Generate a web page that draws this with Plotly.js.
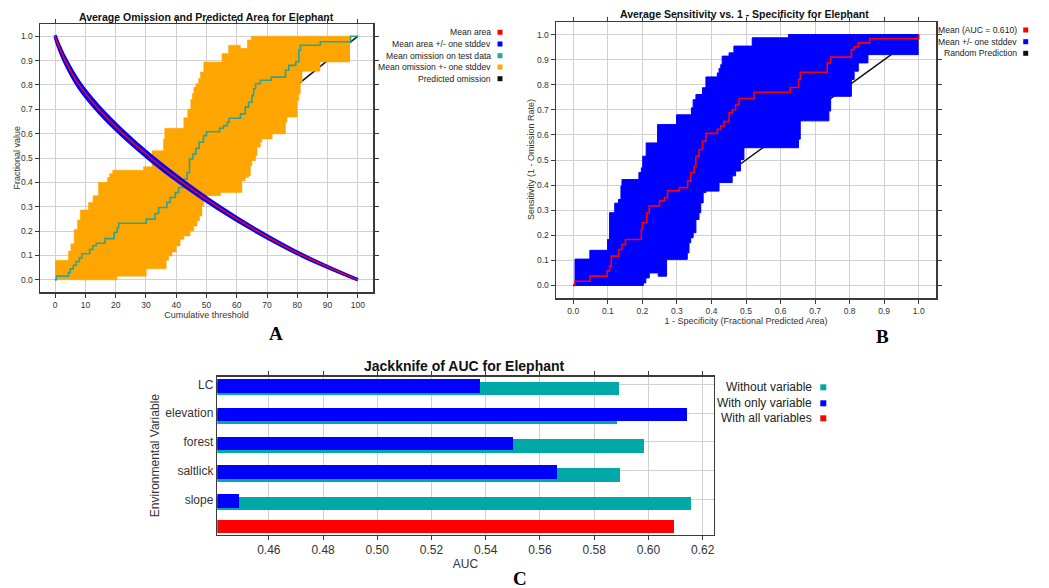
<!DOCTYPE html>
<html>
<head>
<meta charset="utf-8">
<script src="https://cdn.plot.ly/plotly-3.0.1.min.js"></script>
<style>html,body{margin:0;padding:0;background:#fff;}#chart{width:1049px;height:588px;}</style>
</head>
<body>
<div id="chart"></div>
<script>
// ---------- Panel A: Average Omission and Predicted Area ----------
const areaX    = [0, 1, 3.3, 7.9, 14.4, 22.4, 31.6, 42.0, 53.6, 66.7, 81.7, 100];
const areaMean = [1.0, 0.965, 0.9, 0.8, 0.7, 0.6, 0.5, 0.4, 0.3, 0.2, 0.1, 0.0];
const areaSd   = [0.004, 0.007, 0.01, 0.012, 0.012, 0.011, 0.01, 0.009, 0.007, 0.005, 0.003, 0.0];

const omisX = [0, 0.4, 4.4, 5.0, 6.0, 7.0, 8.0, 8.8, 11.4, 12.5, 13.6, 16.5, 19.5, 20.5, 21.0, 30.1, 33.0, 34.2, 36.9, 38.0, 39.7, 40.8, 42.5, 43.6, 44.4, 45.5, 46.5, 47.6, 49.0, 50.0, 54.3, 55.6, 56.9, 57.5, 61.2, 62.8, 63.9, 65.0, 65.6, 66.2, 67.8, 71.4, 76.1, 77.2, 79.5, 80.5, 81.0, 87.6, 97.6, 100];
const omisY = [0, 0.015, 0.03, 0.045, 0.06, 0.075, 0.09, 0.107, 0.125, 0.14, 0.15, 0.169, 0.194, 0.214, 0.232, 0.249, 0.272, 0.297, 0.318, 0.338, 0.358, 0.379, 0.413, 0.44, 0.496, 0.516, 0.54, 0.565, 0.592, 0.608, 0.622, 0.633, 0.647, 0.663, 0.681, 0.709, 0.729, 0.757, 0.784, 0.805, 0.819, 0.832, 0.86, 0.88, 0.895, 0.942, 0.963, 0.977, 1.0, 1.0];

const omisUpX = [0, 4.4, 5.2, 6.3, 7.4, 8.3, 11.0, 12.5, 14.3, 17.3, 18.0, 19.0, 29.2, 32.0, 35.8, 36.2, 42.5, 43.8, 44.8, 45.3, 45.8, 46.5, 47.4, 48.0, 49.1, 55.1, 57.3, 61.2, 63.5, 64.8, 97.4];
const omisUpY = [0.08, 0.118, 0.148, 0.207, 0.246, 0.287, 0.317, 0.345, 0.40, 0.42, 0.435, 0.45, 0.464, 0.53, 0.578, 0.622, 0.665, 0.70, 0.74, 0.765, 0.79, 0.805, 0.826, 0.853, 0.894, 0.929, 0.963, 0.95, 0.984, 1.0, 1.0];
const omisLoX = [0, 20.4, 30.1, 36.7, 37.5, 38.6, 40.0, 41.3, 42.5, 44.6, 45.8, 46.9, 47.7, 48.5, 49.1, 54.6, 61.7, 62.8, 63.9, 64.5, 65.0, 66.2, 66.7, 67.8, 68.3, 71.7, 76.1, 76.6, 79.9, 80.5, 81.0, 81.6, 87.5, 97.4];
const omisLoY = [0, 0.015, 0.045, 0.08, 0.098, 0.114, 0.139, 0.166, 0.18, 0.2, 0.221, 0.242, 0.262, 0.304, 0.345, 0.358, 0.407, 0.42, 0.427, 0.468, 0.489, 0.51, 0.544, 0.565, 0.578, 0.599, 0.647, 0.668, 0.736, 0.764, 0.812, 0.856, 0.894, 0.894];

const predX = [0, 100];
const predY = [0, 1];

const legendA = ["Mean area", "Mean area +/- one stddev", "Mean omission on test data", "Mean omission +- one stddev", "Predicted omission"];

// ---------- Panel B: Sensitivity vs 1 - Specificity ----------
const rocX = [0, 0.005, 0.048, 0.098, 0.105, 0.11, 0.131, 0.141, 0.151, 0.197, 0.2, 0.213, 0.22, 0.25, 0.264, 0.273, 0.307, 0.331, 0.34, 0.35, 0.355, 0.364, 0.374, 0.384, 0.417, 0.427, 0.436, 0.451, 0.46, 0.47, 0.48, 0.523, 0.628, 0.652, 0.657, 0.735, 0.745, 0.805, 0.813, 0.825, 0.858, 1.0];
const rocY = [0, 0.017, 0.037, 0.057, 0.077, 0.117, 0.143, 0.163, 0.183, 0.223, 0.25, 0.29, 0.317, 0.337, 0.35, 0.377, 0.39, 0.416, 0.45, 0.475, 0.515, 0.542, 0.575, 0.606, 0.622, 0.635, 0.653, 0.688, 0.70, 0.721, 0.745, 0.77, 0.789, 0.821, 0.85, 0.887, 0.91, 0.94, 0.951, 0.967, 0.983, 1.0];

const rocUpX = [0, 0.005, 0.048, 0.099, 0.105, 0.12, 0.131, 0.138, 0.141, 0.19, 0.197, 0.201, 0.211, 0.244, 0.299, 0.342, 0.347, 0.355, 0.374, 0.384, 0.417, 0.422, 0.427, 0.431, 0.451, 0.465, 0.518, 0.623, 1.0];
const rocUpY = [0, 0.105, 0.14, 0.183, 0.29, 0.328, 0.343, 0.396, 0.422, 0.45, 0.469, 0.515, 0.568, 0.641, 0.68, 0.708, 0.74, 0.761, 0.788, 0.831, 0.847, 0.865, 0.88, 0.914, 0.927, 0.954, 0.987, 1.0, 1.0];
const rocLoX = [0, 0.203, 0.21, 0.22, 0.246, 0.27, 0.33, 0.335, 0.34, 0.347, 0.355, 0.364, 0.369, 0.376, 0.384, 0.422, 0.46, 0.47, 0.484, 0.494, 0.652, 0.657, 0.74, 0.745, 0.805, 0.813, 0.825, 0.853, 1.0];
const rocLoY = [0, 0.01, 0.03, 0.05, 0.037, 0.104, 0.13, 0.17, 0.19, 0.21, 0.263, 0.29, 0.329, 0.37, 0.376, 0.41, 0.437, 0.456, 0.502, 0.549, 0.583, 0.656, 0.695, 0.754, 0.821, 0.854, 0.887, 0.92, 0.92];

const randX = [0, 1];
const randY = [0, 1];

const legendB = ["Mean (AUC = 0.610)", "Mean +/- one stddev", "Random Prediction"];

// ---------- Panel C: Jackknife of AUC ----------
const variables   = ["LC", "elevation", "forest", "saltlick", "slope"];
const withoutVar  = [0.5892, 0.5883, 0.5985, 0.5894, 0.6157];
const withOnlyVar = [0.5379, 0.6142, 0.5502, 0.5663, 0.4489];
const withAllVars = 0.6096;
const aucTicks    = [0.46, 0.48, 0.50, 0.52, 0.54, 0.56, 0.58, 0.60, 0.62];
const legendC = ["Without variable", "With only variable", "With all variables"];

// ---------- colours ----------
const ORANGE = "#FFA500", TEAL = "#2AA596", BLUE = "#0000FF", RED = "#FF0000", BLACK = "#111111", JTEAL = "#00A8A8";

// ---------- helpers ----------
const W = 1049, H = 588;
const px = x => x / W;
const py = y => 1 - y / H;
const FONT = "Liberation Sans, Arial, sans-serif";

const traces = [];
// Panel A
traces.push({x: predX, y: predY, xaxis: "x", yaxis: "y", mode: "lines", line: {color: BLACK, width: 1.5}});
traces.push({x: omisLoX, y: omisLoY, xaxis: "x", yaxis: "y", mode: "lines", line: {color: ORANGE, width: 0.5, shape: "hv"}});
traces.push({x: omisUpX, y: omisUpY, xaxis: "x", yaxis: "y", mode: "lines", line: {color: ORANGE, width: 0.5, shape: "hv"}, fill: "tonexty", fillcolor: ORANGE});
traces.push({x: omisX, y: omisY, xaxis: "x", yaxis: "y", mode: "lines", line: {color: TEAL, width: 1.6, shape: "hv"}});
const areaLo = areaMean.map((m, i) => m - areaSd[i]);
const areaHi = areaMean.map((m, i) => m + areaSd[i]);
traces.push({x: areaX, y: areaLo, xaxis: "x", yaxis: "y", mode: "lines", line: {color: BLUE, width: 3.2, shape: "spline", smoothing: 1}});
traces.push({x: areaX, y: areaHi, xaxis: "x", yaxis: "y", mode: "lines", line: {color: BLUE, width: 3.2, shape: "spline", smoothing: 1}, fill: "tonexty", fillcolor: BLUE});
traces.push({x: areaX, y: areaMean, xaxis: "x", yaxis: "y", mode: "lines", line: {color: RED, width: 1.5, shape: "spline", smoothing: 1}});
// Panel B
traces.push({x: randX, y: randY, xaxis: "x2", yaxis: "y2", mode: "lines", line: {color: BLACK, width: 1.5}});
traces.push({x: rocLoX, y: rocLoY, xaxis: "x2", yaxis: "y2", mode: "lines", line: {color: BLUE, width: 1, shape: "hv"}});
traces.push({x: rocUpX, y: rocUpY, xaxis: "x2", yaxis: "y2", mode: "lines", line: {color: BLUE, width: 1, shape: "hv"}, fill: "tonexty", fillcolor: BLUE});
traces.push({x: rocX, y: rocY, xaxis: "x2", yaxis: "y2", mode: "lines", line: {color: RED, width: 1.6, shape: "hv"}});
// Panel C
const idx = variables.map((v, i) => i);
traces.push({type: "bar", orientation: "h", x: withoutVar, y: idx.map(i => i + 0.15), width: 0.47, xaxis: "x3", yaxis: "y3", marker: {color: JTEAL, line: {width: 0}}});
traces.push({type: "bar", orientation: "h", x: withOnlyVar, y: idx.map(i => i + 0.05), width: 0.47, xaxis: "x3", yaxis: "y3", marker: {color: BLUE, line: {width: 0}}});
traces.push({type: "bar", orientation: "h", x: [withAllVars], y: [variables.length - 0.06], width: 0.47, xaxis: "x3", yaxis: "y3", marker: {color: RED, line: {width: 0}}});

const axisBase = {
  showline: true, mirror: "ticks", linecolor: "#3a3a3a", linewidth: 1.5,
  showgrid: true, gridcolor: "#d0d0d0", gridwidth: 1, zeroline: false,
  ticks: "outside", ticklen: 4, tickcolor: "#3a3a3a",
  tickfont: {family: FONT, size: 8.5, color: "#333"}
};

const layout = {
  width: W, height: 588,
  margin: {l: 0, r: 0, t: 0, b: 0},
  paper_bgcolor: "#fff", plot_bgcolor: "#fff",
  showlegend: false, barmode: "overlay", bargap: 0,
  font: {family: FONT},
  xaxis: Object.assign({}, axisBase, {domain: [px(40), px(373)], anchor: "y", range: [-5, 105], dtick: 10, tick0: 0,
    title: {text: "Cumulative threshold", font: {family: FONT, size: 9, color: "#333"}, standoff: 2}}),
  yaxis: Object.assign({}, axisBase, {domain: [py(292), py(24)], anchor: "x", range: [-0.05, 1.05], dtick: 0.1, tick0: 0, tickformat: ".1f"}),
  xaxis2: Object.assign({}, axisBase, {domain: [px(556), px(936)], anchor: "y2", range: [-0.05, 1.05], dtick: 0.1, tick0: 0, tickformat: ".1f",
    title: {text: "1 - Specificity (Fractional Predicted Area)", font: {family: FONT, size: 9, color: "#333"}, standoff: 2}}),
  yaxis2: Object.assign({}, axisBase, {domain: [py(298), py(22)], anchor: "x2", range: [-0.05, 1.05], dtick: 0.1, tick0: 0, tickformat: ".1f"}),
  xaxis3: Object.assign({}, axisBase, {domain: [px(217.3), px(713.5)], anchor: "y3", range: [0.441, 0.624],
    tickmode: "array", tickvals: aucTicks, ticktext: aucTicks.map(v => v.toFixed(2)),
    tickfont: {family: FONT, size: 12, color: "#333"},
    title: {text: "AUC", font: {family: FONT, size: 12, color: "#333"}, standoff: 2}}),
  yaxis3: Object.assign({}, axisBase, {domain: [py(534.5), py(376.7)], anchor: "x3", range: [5.22, -0.265],
    tickmode: "array", tickvals: idx, ticktext: variables, ticks: "", mirror: true,
    tickfont: {family: FONT, size: 12, color: "#333"},
    title: {text: "Environmental Variable", font: {family: FONT, size: 12, color: "#333"}, standoff: 3}}),
  annotations: [],
  shapes: []
};

function addText(text, x, y, opts) {
  layout.annotations.push(Object.assign({
    text: text, xref: "paper", yref: "paper", x: px(x), y: py(y),
    xanchor: "center", yanchor: "middle", showarrow: false,
    font: {family: FONT, size: 9, color: "#222"}
  }, opts || {}));
}
function addSwatch(cx, cy, s, color) {
  layout.shapes.push({type: "rect", xref: "paper", yref: "paper",
    x0: px(cx - s / 2), x1: px(cx + s / 2), y0: py(cy + s / 2), y1: py(cy - s / 2),
    fillcolor: color, line: {width: 0}});
}

// titles
addText("<b>Average Omission and Predicted Area for Elephant</b>", 206.5, 17, {font: {family: FONT, size: 10.5, color: "#111"}});
addText("<b>Average Sensitivity vs. 1 - Specificity for Elephant</b>", 744.7, 14.3, {font: {family: FONT, size: 10.5, color: "#111"}});
addText("<b>Jackknife of AUC for Elephant</b>", 464.7, 366, {font: {family: FONT, size: 14, color: "#111"}});

// vertical axis titles for panels A and B
addText("Fractional value", 16.5, 158, {textangle: -90, font: {family: FONT, size: 9, color: "#333"}});
addText("Sensitivity (1 - Omission Rate)", 531, 160, {textangle: -90, font: {family: FONT, size: 9, color: "#333"}});

// legend A
const colA = [RED, BLUE, TEAL, ORANGE, BLACK];
const rowsA = [32.3, 44, 55.7, 67, 78.7];
legendA.forEach((t, i) => {
  addText(t, 493, rowsA[i], {xanchor: "right", font: {family: FONT, size: 8.6, color: "#222"}});
  addSwatch(500, rowsA[i], 5, colA[i]);
});
// legend B
const colB = [RED, BLUE, BLACK];
const rowsB = [30, 41.7, 53.3];
legendB.forEach((t, i) => {
  addText(t, 1018.5, rowsB[i], {xanchor: "right", font: {family: FONT, size: 8.6, color: "#222"}});
  addSwatch(1025.7, rowsB[i], 5, colB[i]);
});
// legend C
const colC = [JTEAL, BLUE, RED];
const rowsC = [387.3, 403.3, 418.3];
legendC.forEach((t, i) => {
  addText(t, 814, rowsC[i], {xanchor: "right", font: {family: FONT, size: 12, color: "#222"}});
  addSwatch(823.3, rowsC[i], 6, colC[i]);
});

// panel letters
const serif = {family: "Liberation Serif, Times New Roman, serif", size: 19, color: "#000"};
addText("<b>A</b>", 276, 333, {font: serif});
addText("<b>B</b>", 882, 336, {font: serif});
addText("<b>C</b>", 520, 578, {font: serif});

Plotly.newPlot("chart", traces, layout, {displayModeBar: false, staticPlot: true});
</script>
</body>
</html>
